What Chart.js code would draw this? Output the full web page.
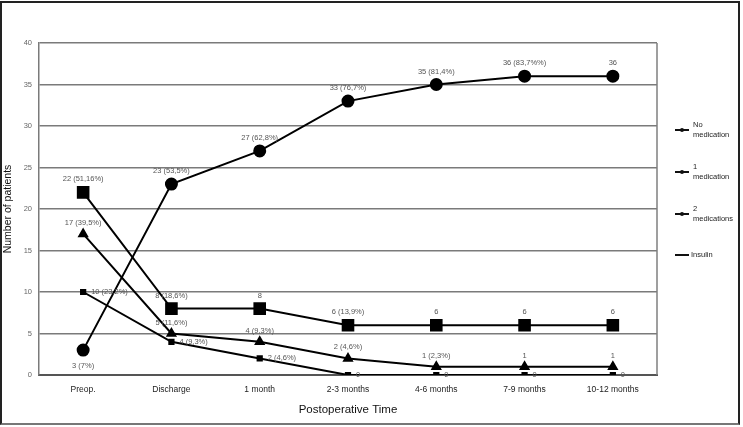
<!DOCTYPE html>
<html>
<head>
<meta charset="utf-8">
<script src="https://cdn.jsdelivr.net/npm/chart.js@4.4.1/dist/chart.umd.min.js"></script>
<style>
  html, body { margin: 0; padding: 0; background: #fff; }
  #wrap { position: relative; width: 743px; height: 427px; }
  #frame { position: absolute; left: 0; top: 1px; width: 736px; height: 420px; border: 2px solid #222; border-bottom-color: #777; pointer-events: none; }
  canvas { position: absolute; left: 0; top: 0; }
</style>
</head>
<body>
<div id="wrap">
  <canvas id="c" width="743" height="427"></canvas>
  <div id="frame"></div>
</div>
<script>
// ---- data ----
const categories = ['Preop.', 'Discharge', '1 month', '2-3 months', '4-6 months', '7-9 months', '10-12 months'];
const seriesNames = [['No', 'medication'], ['1', 'medication'], ['2', 'medications'], ['Insulin']];
const noMedication = [3, 23, 27, 33, 35, 36, 36];
const oneMedication = [22, 8, 8, 6, 6, 6, 6];
const twoMedications = [17, 5, 4, 2, 1, 1, 1];
const insulin = [10, 4, 2, 0, 0, 0, 0];
const noMedicationLabels = ['3 (7%)', '23 (53,5%)', '27 (62,8%)', '33 (76,7%)', '35 (81,4%)', '36 (83,7%%)', '36'];
const oneMedicationLabels = ['22 (51,16%)', '8 (18,6%)', '8', '6 (13,9%)', '6', '6', '6'];
const twoMedicationsLabels = ['17 (39,5%)', '5 (11,6%)', '4 (9,3%)', '2 (4,6%)', '1 (2,3%)', '1', '1'];
const insulinLabels = ['10 (23,2%)', '4 (9,3%)', '2 (4,6%)', '0', '0', '0', '0'];
const yTicks = [0, 5, 10, 15, 20, 25, 30, 35, 40];

// ---- label placement (style, not data) ----
const labelPlacement = [
  i => (i === 0 ? { dx: 0, dy: 16, align: 'center' } : { dx: 0, dy: -13, align: 'center' }),
  i => ({ dx: 0, dy: -13, align: 'center' }),
  i => ({ dx: 0, dy: -11, align: 'center' }),
  i => ({ dx: 8, dy: 0, align: 'left' })
];
const allLabels = [noMedicationLabels, oneMedicationLabels, twoMedicationsLabels, insulinLabels];

const dataLabelPlugin = {
  id: 'dataLabels',
  afterDatasetsDraw(chart) {
    const ctx = chart.ctx;
    ctx.save();
    ctx.font = '7.5px "Liberation Sans", Arial, sans-serif';
    ctx.fillStyle = '#555';
    ctx.textBaseline = 'middle';
    chart.data.datasets.forEach((ds, di) => {
      const meta = chart.getDatasetMeta(di);
      meta.data.forEach((pt, i) => {
        const p = labelPlacement[di](i);
        ctx.textAlign = p.align;
        ctx.fillText(allLabels[di][i], pt.x + p.dx, pt.y + p.dy);
      });
    });
    ctx.restore();
  }
};

const frameLegendPlugin = {
  id: 'frameLegend',
  afterDraw(chart) {
    const ctx = chart.ctx;
    const a = chart.chartArea;
    ctx.save();
    // right border of plot
    ctx.strokeStyle = '#7f7f7f';
    ctx.lineWidth = 1.5;
    ctx.beginPath();
    ctx.moveTo(a.right, a.top);
    ctx.lineTo(a.right, a.bottom);
    ctx.stroke();
    // legend
    const lx = a.right + 18;
    const ys = [130, 172, 214, 255];
    ctx.font = '7.5px "Liberation Sans", Arial, sans-serif';
    ctx.textAlign = 'left';
    ctx.textBaseline = 'middle';
    seriesNames.forEach((name, i) => {
      const y = ys[i];
      ctx.strokeStyle = '#111';
      ctx.lineWidth = 2;
      ctx.beginPath();
      ctx.moveTo(lx, y);
      ctx.lineTo(lx + 14, y);
      ctx.stroke();
      if (i < 3) {
        ctx.beginPath();
        ctx.arc(lx + 7, y, 2, 0, Math.PI * 2);
        ctx.fillStyle = '#111';
        ctx.fill();
      }
      ctx.fillStyle = '#222';
      if (name.length === 2) {
        ctx.fillText(name[0], lx + 18, y - 5);
        ctx.fillText(name[1], lx + 18, y + 5);
      } else {
        ctx.fillText(name[0], lx + 16, y);
      }
    });
    ctx.restore();
  }
};

const lineStyle = { borderColor: '#000', backgroundColor: '#000', borderWidth: 2, tension: 0, pointBorderColor: '#000', pointBackgroundColor: '#000' };

new Chart(document.getElementById('c'), {
  type: 'line',
  data: {
    labels: categories,
    datasets: [
      Object.assign({ label: seriesNames[0].join(' '), data: noMedication, pointStyle: 'circle', pointRadius: 5.5 }, lineStyle),
      Object.assign({ label: seriesNames[1].join(' '), data: oneMedication, pointStyle: 'rect', pointRadius: 7.5 }, lineStyle),
      Object.assign({ label: seriesNames[2].join(' '), data: twoMedications, pointStyle: 'triangle', pointRadius: 4.5 }, lineStyle),
      Object.assign({ label: seriesNames[3].join(' '), data: insulin, pointStyle: 'rect', pointRadius: 3 }, lineStyle)
    ]
  },
  options: {
    responsive: false,
    animation: false,
    devicePixelRatio: 1,
    layout: { padding: { left: 0, top: 43, right: 86, bottom: 0 } },
    plugins: { legend: { display: false }, tooltip: { enabled: false } },
    scales: {
      x: {
        offset: true,
        grid: { display: false, drawTicks: false },
        border: { display: true, color: '#555', width: 2 },
        ticks: { color: '#222', font: { family: '"Liberation Sans", Arial, sans-serif', size: 8.5 }, padding: 10, maxRotation: 0, autoSkip: false },
        title: { display: true, text: 'Postoperative Time', color: '#111', font: { family: '"Liberation Sans", Arial, sans-serif', size: 11.5 }, padding: { top: 0, bottom: 10 } },
        afterFit(s) { s.height = 52; }
      },
      y: {
        min: 0, max: 40,
        afterBuildTicks(s) { s.ticks = yTicks.map(v => ({ value: v })); },
        grid: { color: '#7a7a7a', lineWidth: 1.6, drawTicks: false },
        border: { display: true, color: '#7a7a7a', width: 1.5 },
        ticks: { color: '#666', font: { family: '"Liberation Sans", Arial, sans-serif', size: 7.5 }, padding: 7 },
        title: { display: true, text: 'Number of patients', color: '#111', font: { family: '"Liberation Sans", Arial, sans-serif', size: 10.5 }, padding: { top: 2, bottom: 0 } },
        afterFit(s) { s.width = 39; }
      }
    }
  },
  plugins: [dataLabelPlugin, frameLegendPlugin]
});
</script>
</body>
</html>
